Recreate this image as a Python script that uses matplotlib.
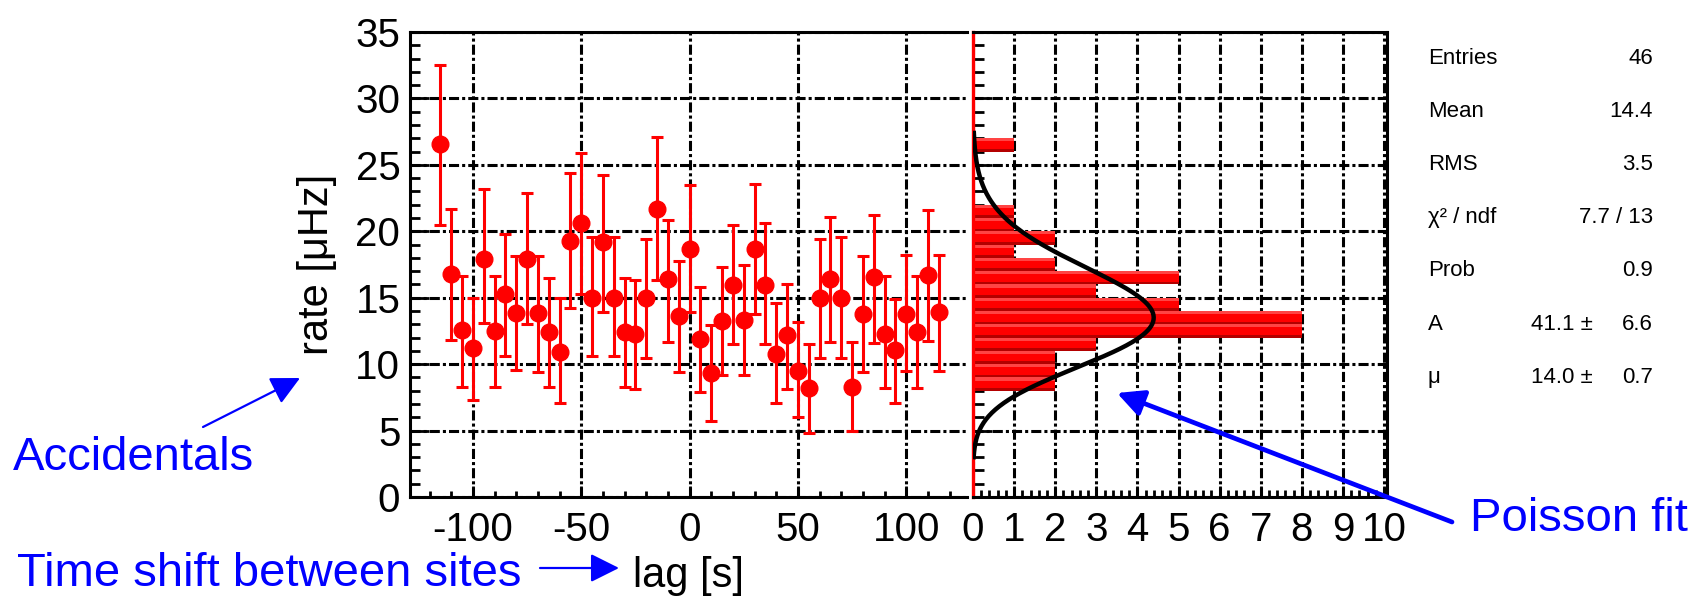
import math
import numpy as np
import matplotlib
matplotlib.use("Agg")
import matplotlib.pyplot as plt
from matplotlib.ticker import MultipleLocator

plt.rcParams['font.family'] = ['Liberation Sans', 'DejaVu Sans']
plt.rcParams['axes.unicode_minus'] = False

# time shift (s) and accidental rate (uHz) with error bar ends
lag = [-115, -110, -105, -100, -95, -90, -85, -80, -75, -70, -65, -60, -55, -50,
       -45, -40, -35, -30, -25, -20, -15, -10, -5, 0, 5, 10, 15, 20, 25, 30, 35,
       40, 45, 50, 55, 60, 65, 70, 75, 80, 85, 90, 95, 100, 105, 110, 115]
rate = [26.6, 16.8, 12.6, 11.2, 17.95, 12.5, 15.25, 13.85, 17.9, 13.85, 12.45, 10.95,
        19.3, 20.6, 14.95, 19.2, 14.95, 12.4, 12.3, 14.95, 21.7, 16.4, 13.6, 18.7,
        11.9, 9.3, 13.25, 15.95, 13.35, 18.7, 15.95, 10.8, 12.2, 9.5, 8.2, 14.95,
        16.4, 14.95, 8.3, 13.8, 16.55, 12.3, 11.1, 13.8, 12.45, 16.7, 13.9]
rate_hi = [32.55, 21.7, 16.65, 15.0, 23.2, 16.65, 19.8, 18.15, 22.9, 18.15, 16.5, 15.0,
           24.4, 25.9, 19.6, 24.2, 19.6, 16.5, 16.3, 19.45, 27.1, 20.85, 17.75, 23.45,
           15.8, 12.95, 17.3, 20.45, 17.5, 23.55, 20.6, 14.6, 16.05, 13.15, 11.5, 19.45,
           21.1, 19.6, 11.65, 18.15, 21.25, 16.6, 14.9, 18.25, 16.6, 21.6, 18.25]
rate_lo = [20.45, 11.85, 8.3, 7.3, 13.1, 8.3, 10.6, 9.55, 13.0, 9.4, 8.3, 7.05,
           14.2, 15.3, 10.6, 13.95, 10.6, 8.3, 8.15, 10.45, 16.3, 11.7, 9.4, 13.95,
           7.9, 5.75, 9.15, 11.5, 9.15, 13.75, 11.5, 7.05, 8.15, 6.0, 4.8, 10.45,
           11.7, 10.45, 4.95, 9.4, 11.6, 8.2, 7.1, 9.45, 8.2, 11.75, 9.45]

# rate histogram (lower bin edge, entries), bins 1 uHz wide
bin_lo = [8, 9, 10, 11, 12, 13, 14, 15, 16, 17, 18, 19, 20, 21, 26]
counts = [2, 2, 2, 3, 8, 8, 5, 3, 5, 2, 1, 2, 1, 1, 1]

# Poisson fit shown in the stats box
fit_A = 41.1
fit_mu = 14.0
fit_range = (3.0, 27.4)

stat_names = ['Entries', 'Mean', 'RMS', 'χ² / ndf', 'Prob', 'A', 'μ']
stat_vals = ['46', '14.4', '3.5', '7.7 / 13', '0.9', '41.1', '14.0']
stat_errs = ['', '', '', '', '', '6.6', '0.7']

W, H = 1700, 598
fig = plt.figure(figsize=(W / 100, H / 100), dpi=100)

grid_ls = (0, (3.3, 1, 1, 1))

# left panel: rate vs lag
ax1 = fig.add_axes([410 / W, (H - 497) / H, 557 / W, 465 / H])
rate = np.array(rate)
yerr = [rate - np.array(rate_lo), np.array(rate_hi) - rate]
ax1.errorbar(lag, rate, yerr=yerr, fmt='o', color='#ff0000', ms=12,
             elinewidth=2.2, capsize=4, capthick=2.2, zorder=3)
ax1.set_xlim(-129, 128)
ax1.set_ylim(0, 35)
ax1.xaxis.set_major_locator(MultipleLocator(50))
ax1.xaxis.set_minor_locator(MultipleLocator(10))
ax1.yaxis.set_major_locator(MultipleLocator(5))
ax1.yaxis.set_minor_locator(MultipleLocator(1))
ax1.grid(True, which='major', color='k', lw=2.2, ls=grid_ls)
ax1.set_axisbelow(True)
ax1.spines['right'].set_visible(False)
for s in ['left', 'bottom', 'top']:
    ax1.spines[s].set_linewidth(2.2)
ax1.tick_params(axis='both', which='both', direction='in', width=2,
                labelsize=29, top=False, right=False)
ax1.tick_params(axis='y', which='major', length=14, pad=7)
ax1.tick_params(axis='y', which='minor', length=7)
ax1.tick_params(axis='x', which='major', length=8, pad=10)
ax1.tick_params(axis='x', which='minor', length=4)
ax1.set_xlabel('lag [s]', fontsize=30, va='center')
ax1.xaxis.set_label_coords(0.5, -0.17)
ax1.set_ylabel('rate [μHz]', fontsize=30, va='center')
ax1.yaxis.set_label_coords(-0.167, 0.5)

# right panel: horizontal histogram of the rates
ax2 = fig.add_axes([973 / W, (H - 497) / H, (1387 - 973) / W, 465 / H])
ax2.barh(bin_lo, counts, height=1.0, align='edge', color='#ff0000', lw=0)
ax2.barh(np.array(bin_lo) + 0.76, counts, height=0.24, align='edge', color='#ff4444', lw=0)
ax2.barh(bin_lo, counts, height=0.2, align='edge', color='#b40000', lw=0)
fy = np.linspace(fit_range[0], fit_range[1], 300)
fx = [fit_A * math.exp(v * math.log(fit_mu) - fit_mu - math.lgamma(v + 1)) for v in fy]
ax2.plot(fx, fy, color='k', lw=3.2, zorder=4)
ax2.set_xlim(0, 10.07)
ax2.set_ylim(0, 35)
ax2.xaxis.set_major_locator(MultipleLocator(1))
ax2.xaxis.set_minor_locator(MultipleLocator(0.2))
ax2.yaxis.set_major_locator(MultipleLocator(5))
ax2.yaxis.set_minor_locator(MultipleLocator(1))
ax2.grid(True, which='major', color='k', lw=2.2, ls=grid_ls)
ax2.set_axisbelow(True)
for s in ['right', 'bottom', 'top']:
    ax2.spines[s].set_linewidth(2.2)
ax2.spines['left'].set_color('#ff0000')
ax2.spines['left'].set_linewidth(2.4)
ax2.tick_params(axis='both', which='both', direction='in', width=2,
                labelsize=29, top=False, right=False, labelleft=False)
ax2.tick_params(axis='y', which='major', length=14)
ax2.tick_params(axis='y', which='minor', length=8)
ax2.tick_params(axis='x', which='major', length=8, pad=10)
ax2.tick_params(axis='x', which='minor', length=5)

# overlay in pixel coordinates for stats box and annotations
ov = fig.add_axes([0, 0, 1, 1], zorder=10)
ov.set_xlim(0, W)
ov.set_ylim(H, 0)
ov.axis('off')

for i, name in enumerate(stat_names):
    yb = 63.5 + 53.2 * i
    ov.text(1428, yb, name, fontsize=16, ha='left', va='baseline')
    if stat_errs[i]:
        ov.text(1593, yb, stat_vals[i] + ' ±', fontsize=16, ha='right', va='baseline')
        ov.text(1653, yb, stat_errs[i], fontsize=16, ha='right', va='baseline')
    else:
        ov.text(1653, yb, stat_vals[i], fontsize=16, ha='right', va='baseline')

blue = '#0000ff'
head = '-|>,head_length=0.4,head_width=0.2'
ov.text(13, 470, 'Accidentals', fontsize=34, color=blue, va='baseline')
ov.text(17, 586, 'Time shift between sites', fontsize=34, color=blue, va='baseline')
ov.text(1470, 531, 'Poisson fit', fontsize=34, color=blue, va='baseline')
ov.annotate('', xy=(300, 378), xytext=(203, 427),
            arrowprops=dict(arrowstyle=head, mutation_scale=44, lw=1.6, color=blue,
                            shrinkA=0, shrinkB=0))
ov.annotate('', xy=(619, 568), xytext=(540, 568),
            arrowprops=dict(arrowstyle=head, mutation_scale=44, lw=1.6, color=blue,
                            shrinkA=0, shrinkB=0))
ov.annotate('', xy=(1117, 393), xytext=(1452, 522),
            arrowprops=dict(arrowstyle=head, mutation_scale=40, lw=3.4, color=blue,
                            shrinkA=0, shrinkB=0))

fig.savefig('out.png', dpi=100)
